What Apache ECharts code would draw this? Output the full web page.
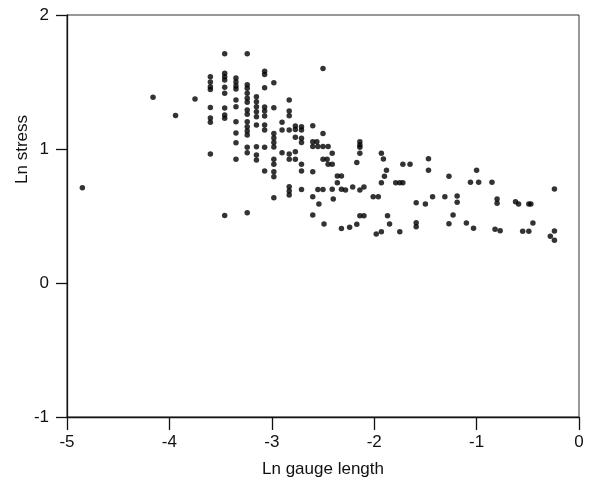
<!DOCTYPE html>
<html>
<head>
<meta charset="utf-8">
<script src="https://cdn.jsdelivr.net/npm/echarts@6/dist/echarts.min.js"></script>
<style>
html,body{margin:0;padding:0;background:#fff;}
#chart{width:591px;height:486px;}
</style>
</head>
<body>
<div id="chart"></div>
<script>
// Ln gauge length (x) and Ln stress (y)
const lnGauge = [
  -4.85, -4.16, -3.94, -3.75,
  -3.60, -3.60, -3.60, -3.60, -3.60, -3.60, -3.60, -3.60,
  -3.46, -3.46, -3.46, -3.46, -3.46, -3.46, -3.46, -3.46, -3.46, -3.46,
  -3.35, -3.35, -3.35, -3.35, -3.35, -3.35, -3.35, -3.35, -3.35, -3.35,
  -3.24, -3.24, -3.24, -3.24, -3.24, -3.24, -3.24, -3.24, -3.24, -3.24, -3.24, -3.24, -3.24, -3.24, -3.24,
  -3.15, -3.15, -3.15, -3.15, -3.15, -3.15, -3.15, -3.15, -3.15,
  -3.07, -3.07, -3.07, -3.07, -3.07, -3.07, -3.07, -3.07, -3.07, -3.07,
  -2.98, -2.98, -2.98, -2.98, -2.98, -2.98, -2.98, -2.98, -2.98, -2.98, -2.98,
  -2.90, -2.90, -2.90,
  -2.83, -2.83, -2.83, -2.83, -2.83, -2.83, -2.83, -2.83, -2.83,
  -2.77, -2.77, -2.77, -2.77, -2.77,
  -2.71, -2.71, -2.71, -2.71, -2.71, -2.71, -2.71,
  -2.60, -2.60, -2.60, -2.60, -2.60, -2.60,
  -2.56, -2.55, -2.50, -2.45, -2.50, -2.50, -2.54,
  -2.50, -2.46, -2.45, -2.41, -2.41,
  -2.55, -2.50, -2.41, -2.49, -2.40,
  -2.36, -2.32, -2.36, -2.32, -2.28, -2.32, -2.24, -2.21, -2.17, -2.17,
  -2.14, -2.14, -2.14, -2.14, -2.14, -2.10, -2.14, -2.10,
  -2.01, -1.96, -1.98, -1.93,
  -1.93, -1.91, -1.88, -1.90, -1.93, -1.87, -1.85,
  -1.79, -1.75, -1.72, -1.75, -1.72, -1.65,
  -1.59, -1.59, -1.59, -1.50, -1.47, -1.47, -1.43,
  -1.31, -1.27, -1.27, -1.19, -1.19, -1.23,
  -1.10, -1.03, -1.06, -0.98, -1.00,
  -0.85, -0.80, -0.80, -0.82, -0.77,
  -0.62, -0.59, -0.49, -0.47, -0.45, -0.55, -0.49,
  -0.24, -0.24, -0.28, -0.24
];
const lnStress = [
  0.71, 1.386, 1.25, 1.373,
  1.54, 1.50, 1.465, 1.444, 1.31, 1.231, 1.199, 0.963,
  1.71, 1.565, 1.54, 1.515, 1.46, 1.416, 1.306, 1.254, 1.229, 0.504,
  1.53, 1.50, 1.47, 1.448, 1.366, 1.316, 1.204, 1.119, 1.047, 0.923,
  1.71, 1.48, 1.453, 1.416, 1.378, 1.349, 1.291, 1.259, 1.204, 1.166, 1.134, 1.104, 1.013, 0.972, 0.525,
  1.39, 1.353, 1.316, 1.278, 1.241, 1.179, 1.017, 0.955, 0.918,
  1.58, 1.556, 1.457, 1.313, 1.284, 1.246, 1.179, 1.142, 1.013, 0.836,
  1.495, 1.308, 1.116, 1.082, 1.049, 1.015, 0.923, 0.886, 0.831, 0.793, 0.637,
  1.199, 1.142, 0.972,
  1.366, 1.284, 1.249, 1.142, 0.963, 0.923, 0.719, 0.687, 0.657,
  1.172, 1.146, 1.087, 0.98, 0.923,
  1.166, 1.142, 1.08, 1.049, 0.886, 0.836, 0.698,
  1.174, 1.054, 1.019, 0.831, 0.644, 0.507,
  1.054, 1.019, 1.019, 1.019, 1.116, 1.60, 0.59,
  0.923, 0.923, 0.886, 0.886, 0.968,
  0.698, 0.698, 0.699, 0.44, 0.627,
  0.799, 0.799, 0.749, 0.699, 0.694, 0.407, 0.416, 0.716, 0.438, 0.899,
  1.054, 1.03, 1.013, 0.968, 0.694, 0.716, 0.502, 0.502,
  0.644, 0.644, 0.366, 0.383,
  0.968, 0.925, 0.841, 0.796, 0.749, 0.502, 0.44,
  0.749, 0.749, 0.749, 0.383, 0.886, 0.886,
  0.599, 0.45, 0.42, 0.59, 0.928, 0.841, 0.644,
  0.644, 0.796, 0.443, 0.649, 0.602, 0.507,
  0.448, 0.408, 0.751, 0.751, 0.841,
  0.751, 0.627, 0.595, 0.401, 0.39,
  0.607, 0.59, 0.59, 0.59, 0.448, 0.386, 0.386,
  0.701, 0.388, 0.349, 0.319
];
const xTicks = [-5, -4, -3, -2, -1, 0];
const yTicks = [-1, 0, 1, 2];

const points = lnGauge.map((x, i) => [x, lnStress[i]]);
const FONT = '"Liberation Sans", Arial, sans-serif';

const chart = echarts.init(document.getElementById('chart'), null, {renderer: 'canvas'});
chart.setOption({
  animation: false,
  backgroundColor: '#fff',
  grid: {left: 67, right: 12, top: 15, bottom: 69, show: true, borderColor: '#333', borderWidth: 1},
  xAxis: {
    type: 'value', min: xTicks[0], max: xTicks[xTicks.length - 1], interval: 1,
    name: 'Ln gauge length', nameLocation: 'middle', nameGap: 44,
    nameTextStyle: {fontFamily: FONT, fontSize: 17, color: '#111'},
    axisLine: {show: true, onZero: false, lineStyle: {color: '#111', width: 1.3}},
    axisTick: {show: true, inside: false, length: 13, lineStyle: {color: '#111', width: 1.3}},
    axisLabel: {fontFamily: FONT, fontSize: 17, color: '#111', margin: 17},
    splitLine: {show: false}
  },
  yAxis: {
    type: 'value', min: yTicks[0], max: yTicks[yTicks.length - 1], interval: 1,
    axisLine: {show: true, onZero: false, lineStyle: {color: '#111', width: 1.3}},
    axisTick: {show: true, inside: false, length: 11, lineStyle: {color: '#111', width: 1.3}},
    axisLabel: {fontFamily: FONT, fontSize: 17, color: '#111', margin: 18},
    splitLine: {show: false}
  },
  graphic: [{
    type: 'text', left: 14, top: 115, rotation: Math.PI / 2,
    style: {text: 'Ln stress', font: '17px ' + FONT, fill: '#111'}
  }],
  series: [{
    type: 'scatter',
    data: points,
    symbol: 'circle',
    symbolSize: 5.5,
    itemStyle: {color: '#000'}
  }]
});
</script>
</body>
</html>
